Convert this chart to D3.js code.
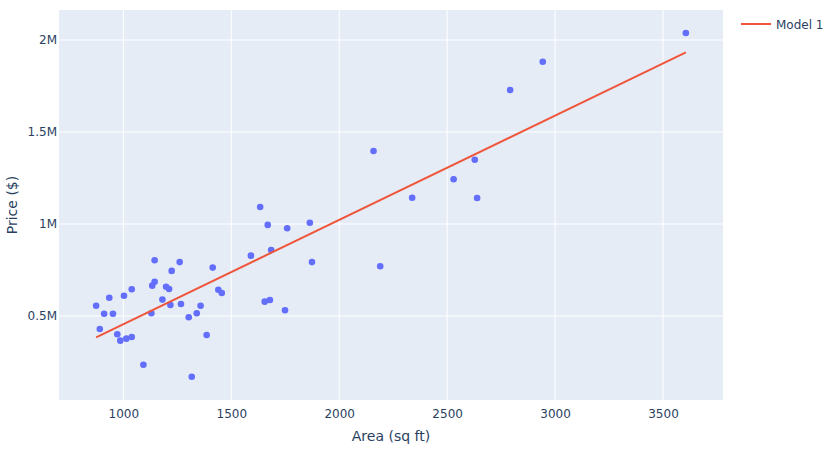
<!DOCTYPE html>
<html>
<head>
<meta charset="utf-8">
<script src="https://cdn.jsdelivr.net/npm/d3@7"></script>
<style>
  body { margin: 0; background: #fff; }
  svg { font-family: "DejaVu Sans", Verdana, sans-serif; }
</style>
</head>
<body>
<div id="chart"></div>
<script>
// Data
const areas = [874, 911, 952, 935, 891, 1003, 1039, 972, 986, 1014,
  1039, 1093, 1130, 1134, 1145, 1145, 1181, 1198, 1212, 1218,
  1224, 1261, 1267, 1303, 1317, 1340, 1358, 1386, 1414, 1440,
  1456, 1591, 1634, 1655, 1679, 1669, 1685, 1759, 1749, 1864,
  1874, 2159, 2190, 2338, 2530, 2628, 2639, 2792, 2943, 3606];
const prices = [556, 512, 512, 599, 429, 610, 645, 401, 366, 377,
  386, 235, 515, 665, 686, 803, 589, 659, 647, 560,
  745, 793, 565, 493, 170, 515, 556, 397, 763, 643,
  625, 828, 1092, 578, 587, 995, 859, 977, 531, 1007,
  793, 1397, 770, 1143, 1243, 1349, 1141, 1728, 1882, 2038].map(v => v * 1000);
const modelX = [874, 3606];
const modelY = [384000, 1933000];
const xTicks = [1000, 1500, 2000, 2500, 3000, 3500];
const yTicks = [500000, 1000000, 1500000, 2000000];
const yTickLabels = ["0.5M", "1M", "1.5M", "2M"];
const seriesName = "Model 1";

const W = 837, H = 450;
const margin = { left: 59, right: 114, top: 10, bottom: 50 };
const plotW = W - margin.left - margin.right;
const plotH = H - margin.top - margin.bottom;
const font = "'DejaVu Sans', Verdana, sans-serif";

const x = d3.scaleLinear().domain([702, 3778]).range([0, plotW]);
const y = d3.scaleLinear().domain([43500, 2163000]).range([plotH, 0]);

const svg = d3.select("#chart").append("svg")
  .attr("width", W).attr("height", H);

const g = svg.append("g").attr("transform", `translate(${margin.left},${margin.top})`);

g.append("rect").attr("width", plotW).attr("height", plotH).attr("fill", "#E5ECF6");

// grid
g.selectAll(".vgrid").data(xTicks).enter().append("line")
  .attr("x1", d => x(d)).attr("x2", d => x(d))
  .attr("y1", 0).attr("y2", plotH)
  .attr("stroke", "#fff").attr("stroke-width", 1);
g.selectAll(".hgrid").data(yTicks).enter().append("line")
  .attr("y1", d => y(d)).attr("y2", d => y(d))
  .attr("x1", 0).attr("x2", plotW)
  .attr("stroke", "#fff").attr("stroke-width", 1);

// axes (labels only)
const xAxis = g.append("g").attr("transform", `translate(0,${plotH})`)
  .call(d3.axisBottom(x).tickValues(xTicks).tickSize(0).tickPadding(9).tickFormat(d3.format("d")));
const yAxis = g.append("g")
  .call(d3.axisLeft(y).tickValues(yTicks).tickSize(0).tickPadding(2)
    .tickFormat((d, i) => yTickLabels[i]));
[xAxis, yAxis].forEach(a => {
  a.select(".domain").remove();
  a.selectAll("text").attr("fill", "#2a3f5f").style("font-size", "12px")
    .style("font-family", font);
});

// points
g.selectAll(".pt").data(areas).enter().append("circle")
  .attr("cx", d => x(d))
  .attr("cy", (d, i) => y(prices[i]))
  .attr("r", 3.3)
  .attr("fill", "#636efa");

// model line
const line = d3.line().x(d => x(d[0])).y(d => y(d[1]));
g.append("path")
  .datum(modelX.map((v, i) => [v, modelY[i]]))
  .attr("d", line)
  .attr("fill", "none")
  .attr("stroke", "#EF553B")
  .attr("stroke-width", 2);

// axis titles
svg.append("text")
  .attr("x", margin.left + plotW / 2).attr("y", 441)
  .attr("text-anchor", "middle")
  .attr("fill", "#2a3f5f").style("font-size", "14px")
  .text("Area (sq ft)");
svg.append("text")
  .attr("transform", `translate(17,${margin.top + plotH / 2}) rotate(-90)`)
  .attr("text-anchor", "middle")
  .attr("fill", "#2a3f5f").style("font-size", "14px")
  .text("Price ($)");

// legend
const leg = svg.append("g").attr("transform", "translate(741,24)");
leg.append("line").attr("x1", 0).attr("x2", 30).attr("y1", 0).attr("y2", 0)
  .attr("stroke", "#EF553B").attr("stroke-width", 2);
leg.append("text").attr("x", 35).attr("y", 4.5)
  .attr("fill", "#2a3f5f").style("font-size", "12px")
  .text(seriesName);
</script>
</body>
</html>
